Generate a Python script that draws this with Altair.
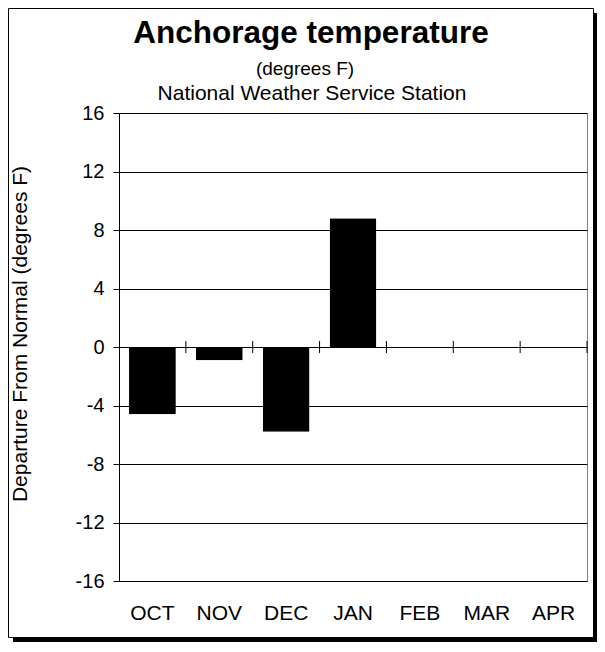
import altair as alt
import pandas as pd

# ---- data ----
months = ["OCT", "NOV", "DEC", "JAN", "FEB", "MAR", "APR"]
departure = [-4.6, -0.9, -5.8, 8.8, None, None, None]
y_ticks = [-16, -12, -8, -4, 0, 4, 8, 12, 16]
title_text = "Anchorage temperature"
subtitle_1 = "(degrees F)"
subtitle_2 = "National Weather Service Station"
y_title = "Departure From Normal (degrees F)"

FONT = "Liberation Sans, Arial, Helvetica, sans-serif"
W, H = 468, 468

df = pd.DataFrame({"month": months, "value": departure})
bounds = pd.DataFrame({"b": list(range(1, len(months) + 1))})
one = pd.DataFrame({"k": [0]})

yscale = alt.Scale(domain=[y_ticks[0], y_ticks[-1]], nice=False, zero=False)

frame = alt.Chart(one).mark_rect(fillOpacity=0, stroke="black", strokeWidth=1).encode(
    x=alt.value(-110.5), x2=alt.value(474.5), y=alt.value(-104.5), y2=alt.value(524.5)
)
shadow_r = alt.Chart(one).mark_rect(color="black").encode(
    x=alt.value(474.5), x2=alt.value(478), y=alt.value(-100), y2=alt.value(529)
)
shadow_b = alt.Chart(one).mark_rect(color="black").encode(
    x=alt.value(-106), x2=alt.value(478), y=alt.value(524.5), y2=alt.value(529)
)

bars = alt.Chart(df).mark_bar(color="black", cornerRadius=1).encode(
    x=alt.X(
        "month:N",
        sort=months,
        scale=alt.Scale(domain=months, paddingInner=0.3, paddingOuter=0.15),
        axis=alt.Axis(
            title=None, domain=False, ticks=False, grid=False,
            labelFont=FONT, labelFontSize=21, labelColor="black",
            labelPadding=21, labelAngle=0,
        ),
    ),
    y=alt.Y(
        "value:Q",
        scale=yscale,
        axis=alt.Axis(
            title=None, values=y_ticks, grid=True, gridColor="black", gridWidth=1,
            domainColor="black", tickColor="black", tickSize=6,
            labelFont=FONT, labelFontSize=20, labelColor="black", labelPadding=9,
            labelExpr="'' + datum.value",
        ),
    ),
)

ticks = alt.Chart(bounds).mark_rule(color="black", strokeWidth=1, yOffset=-6, y2Offset=6).encode(
    x=alt.X("b:Q", scale=alt.Scale(domain=[0, len(months)], nice=False, zero=False), axis=None),
    y=alt.datum(0, scale=yscale),
    y2=alt.datum(0),
)

def txt(s, x, y, size, bold=False, angle=0):
    return alt.Chart(pd.DataFrame({"t": [s]})).mark_text(
        font=FONT, fontSize=size, fontWeight="bold" if bold else "normal",
        color="black", align="center", baseline="alphabetic" if angle == 0 else "middle",
        angle=angle,
    ).encode(x=alt.value(x), y=alt.value(y), text="t:N")

t1 = txt(title_text, 192, -70, 31.5, bold=True)
t2 = txt(subtitle_1, 186, -38, 19)
t3 = txt(subtitle_2, 193, -13, 21)
t4 = txt(y_title, -98, 221, 21, angle=270)

chart = alt.layer(frame, shadow_r, shadow_b, bars, ticks, t1, t2, t3, t4).resolve_scale(
    x="independent"
).properties(
    width=W, height=H,
    autosize=alt.AutoSizeParams(type="none"),
    padding={"left": 111, "top": 105, "right": 10, "bottom": 61},
    background="white",
).configure_view(stroke="#808080", strokeWidth=1)

chart.save("out.html", embed_options={"renderer": "svg", "actions": False})
